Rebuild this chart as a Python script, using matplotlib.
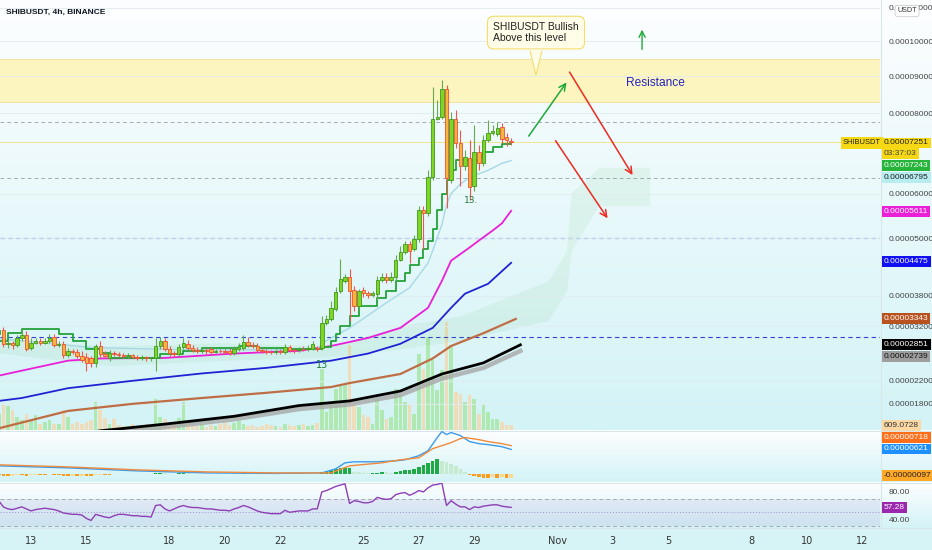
import numpy as np
import matplotlib
matplotlib.use("Agg")
import matplotlib.pyplot as plt
from matplotlib.colors import LinearSegmentedColormap
from matplotlib.ticker import FuncFormatter, NullLocator

# prices are in units of 1e-5 USDT, one candle every 4h, first candle Oct 11 20:00
start_day = 11 + 20 / 24

open_ = [3.06,3.13,2.87,2.89,2.85,2.97,3.04,2.80,2.89,2.93,
         2.89,2.93,3.00,2.85,2.87,2.67,2.74,2.72,2.65,2.63,
         2.60,2.51,2.83,2.69,2.60,2.70,2.69,2.67,2.65,2.66,
         2.63,2.61,2.63,2.60,2.61,2.83,2.93,2.78,2.70,2.69,
         2.82,2.87,2.80,2.76,2.74,2.76,2.78,2.72,2.74,2.73,
         2.74,2.70,2.78,2.80,2.91,2.85,2.83,2.76,2.74,2.72,
         2.71,2.74,2.72,2.82,2.76,2.75,2.78,2.77,2.78,2.80,
         2.80,3.27,3.35,3.54,3.90,4.10,4.18,3.92,3.60,3.92,
         3.86,3.82,3.84,4.12,4.18,4.12,4.18,4.54,4.71,4.88,
         4.77,4.99,5.62,5.57,6.39,7.86,7.89,8.64,6.32,7.84,
         7.23,6.66,6.85,6.18,7.00,6.73,7.30,7.48,7.46,7.64,
         7.38,7.28]
close = [3.13,2.87,2.89,2.85,2.97,3.04,2.78,2.89,2.93,2.89,
         2.93,2.98,2.85,2.87,2.67,2.74,2.72,2.65,2.58,2.51,
         2.52,2.83,2.69,2.65,2.70,2.69,2.67,2.65,2.66,2.63,
         2.61,2.63,2.60,2.61,2.83,2.93,2.78,2.70,2.69,2.82,
         2.89,2.80,2.76,2.74,2.76,2.74,2.72,2.74,2.73,2.72,
         2.70,2.78,2.82,2.91,2.85,2.83,2.76,2.74,2.72,2.71,
         2.74,2.72,2.82,2.76,2.75,2.78,2.77,2.80,2.87,2.78,
         3.27,3.35,3.56,3.88,4.14,4.18,3.90,3.60,3.90,3.86,
         3.82,3.86,4.12,4.18,4.12,4.18,4.54,4.71,4.88,4.73,
         4.99,5.62,5.57,6.39,7.86,7.89,8.64,6.37,7.84,7.23,
         6.66,6.88,6.16,7.00,6.73,7.30,7.48,7.53,7.61,7.33,
         7.30,7.251]
high = [3.21,3.19,2.95,2.93,3.04,3.15,3.11,2.97,2.98,2.97,
        2.98,3.06,3.06,2.93,2.93,2.80,2.78,2.78,2.74,2.70,
        2.65,2.87,2.93,2.74,2.76,2.74,2.72,2.70,2.70,2.69,
        2.67,2.67,2.65,2.63,2.97,3.00,2.97,2.83,2.74,2.87,
        2.98,2.95,2.85,2.82,2.80,2.80,2.82,2.78,2.78,2.78,
        2.80,2.83,2.89,3.04,3.00,2.91,2.89,2.80,2.78,2.76,
        2.78,2.78,2.87,2.85,2.80,2.82,2.83,2.85,2.93,2.83,
        3.39,3.42,3.70,3.98,4.56,4.25,4.35,4.00,3.94,3.98,
        3.90,3.90,4.20,4.27,4.27,4.29,4.65,4.84,4.95,4.95,
        5.08,5.73,5.73,6.56,8.70,8.34,8.89,8.75,8.03,8.08,
        7.56,7.05,7.30,7.69,7.18,7.43,7.81,7.69,7.76,7.74,
        7.48,7.35]
low = [3.02,2.82,2.80,2.78,2.82,2.93,2.74,2.76,2.87,2.85,
       2.87,2.89,2.82,2.82,2.60,2.63,2.69,2.61,2.54,2.38,
       2.45,2.45,2.63,2.60,2.56,2.65,2.63,2.61,2.61,2.60,
       2.58,2.58,2.56,2.56,2.38,2.78,2.74,2.65,2.63,2.65,
       2.78,2.76,2.72,2.70,2.70,2.69,2.69,2.70,2.70,2.69,
       2.67,2.67,2.74,2.76,2.82,2.80,2.72,2.70,2.69,2.69,
       2.69,2.69,2.69,2.72,2.70,2.72,2.74,2.74,2.76,2.74,
       2.76,3.23,3.31,3.50,3.86,4.06,3.31,3.50,3.54,3.78,
       3.76,3.78,3.72,4.08,4.06,4.08,4.12,4.52,4.67,4.48,
       4.73,4.91,4.77,5.50,6.32,7.81,7.84,5.67,6.25,7.10,
       6.18,6.56,5.85,6.08,6.56,6.66,7.25,7.43,7.40,7.23,
       7.15,7.18]
volume = [1952,3172,2928,2440,1586,1220,1952,1220,1830,732,
          976,1220,732,732,2440,1586,732,976,732,976,
          1220,3416,2440,1464,732,1342,610,488,488,732,
          488,610,732,610,3782,1586,1342,976,732,1464,
          3416,976,610,488,732,366,610,488,732,976,
          610,854,1098,732,488,610,366,488,732,610,
          488,366,732,610,488,610,732,488,610,854,
          7442,2196,3172,5002,5490,5612,10370,3050,2806,1830,
          1586,732,3782,2440,1342,1586,5002,4270,3416,3050,
          1952,9272,7442,11346,8540,4880,7320,13176,10370,4636,
          4392,3416,4270,3782,1952,3050,2196,1342,1342,976,
          610,609.07]

# overlays (bar index, value)
trail_bars = [0,2,5,13,16,19,22,24,35,40,44,52,56,62,70,72,73,74,76,78,
              82,84,86,88,89,91,92,93,94,95,96,97,98,99,104,105,107,109,111]
trail_vals = [2.93,3.07,3.15,3.06,2.93,2.78,2.70,2.61,2.69,2.74,2.80,2.83,2.80,2.78,2.82,
              2.93,3.06,3.21,3.40,3.60,3.76,3.90,4.10,4.27,4.42,4.58,4.77,4.95,5.21,5.62,
              6.01,6.32,6.56,6.80,6.88,7.00,7.13,7.20,7.23]
ema_fast_bars = [0,20,40,60,69,71,76,84,89,93,94,96,97,98,100,102,106,109,111]
ema_fast_vals = [2.97,2.80,2.76,2.76,2.78,2.93,3.17,3.66,3.96,4.47,4.73,5.30,5.75,6.01,6.23,6.39,6.56,6.73,6.795]
ema50_bars = [0,5,15,22,36,51,65,72,80,87,93,96,98,102,104,107,109,111]
ema50_vals = [2.29,2.38,2.56,2.60,2.61,2.69,2.74,2.83,2.98,3.17,3.56,4.10,4.52,4.80,4.95,5.17,5.33,5.611]
ema100_bars = [0,5,15,29,44,58,72,80,87,94,98,101,106,111]
ema100_vals = [1.85,1.90,2.07,2.20,2.33,2.43,2.56,2.69,2.87,3.17,3.56,3.84,4.04,4.475]
ema200_bars = [0,15,29,44,58,72,76,87,94,98,105,112]
ema200_vals = [1.39,1.68,1.80,1.90,1.99,2.09,2.16,2.32,2.60,2.83,3.07,3.343]
ma_black_bars = [10,22,36,51,65,76,87,96,105,113]
ma_black_vals = [1.20,1.35,1.46,1.59,1.77,1.85,2.02,2.32,2.52,2.851]
ma_gray_vals = [1.15,1.30,1.41,1.54,1.71,1.79,1.95,2.24,2.43,2.739]
cloud_bars = [0,24,48,72,87,100,119,123,124,130,141]
cloud_a = [2.97,2.83,2.89,2.83,3.21,3.40,4.10,4.73,6.03,6.63,6.63]
cloud_b = [2.70,2.47,2.56,2.63,2.78,2.93,3.31,3.90,4.73,5.73,5.73]

# MACD in units of 1e-6
macd_bars = [0,15,30,45,60,70,73,75,77,82,86,88,91,93,95,96,97,98,100,102,104,106,109,111]
macd_vals = [2.05,1.54,0.77,0.26,0.13,0.26,1.28,2.82,3.08,3.08,3.33,3.59,4.62,5.90,9.23,10.77,
             10.00,10.51,9.74,8.21,7.69,7.44,6.92,6.21]
signal_bars = [0,15,30,45,60,72,76,83,87,91,94,98,100,101,104,106,109,111]
signal_vals = [2.31,1.79,1.03,0.51,0.26,0.26,2.05,2.82,3.59,4.10,6.41,7.95,8.97,9.23,8.72,8.21,7.69,7.18]
hist = [-0.3,-0.4,-0.5,-0.4,-0.3,-0.3,-0.4,-0.3,-0.2,-0.2,
        -0.2,-0.1,-0.2,-0.3,-0.5,-0.6,-0.5,-0.5,-0.4,-0.5,
        -0.6,-0.3,-0.2,-0.2,-0.2,-0.1,-0.1,-0.1,-0.1,-0.1,
        -0.1,-0.1,-0.1,-0.1,0.2,0.3,0.2,0.1,0.1,0.2,
        0.3,0.2,0.1,0.1,0.1,0.0,-0.1,-0.1,-0.1,-0.1,
        -0.1,0.1,0.1,0.2,0.1,0.1,-0.1,-0.1,-0.1,-0.1,
        -0.1,-0.1,0.1,0.0,0.0,-0.1,-0.1,0.0,0.1,0.1,
        0.5,0.8,1.0,1.2,1.4,1.5,1.6,0.6,0.5,0.3,
        0.2,0.2,0.3,0.5,0.4,0.3,0.6,0.7,0.9,1.1,
        1.3,1.8,2.3,2.8,3.3,3.8,3.4,3.0,2.6,2.0,
        1.2,0.5,-0.3,-0.6,-0.9,-1.0,-1.0,-0.9,-1.0,-0.9,
        -1.0,-0.97]
rsi = [67,58,55,54,56,58,55,52,54,55,
       56,55,54,52,49,48,47,47,46,41,
       38,47,45,43,42,45,47,47,46,45,
       45,44,44,43,60,61,55,52,55,58,
       60,58,57,57,56,55,55,54,53,53,
       52,55,57,60,58,55,52,50,49,48,
       48,48,53,50,51,52,52,52,55,55,
       80,82,85,88,90,92,63,67,66,64,
       64,66,72,70,69,70,76,78,79,75,
       78,82,80,86,90,91,93,60,67,62,
       58,58,54,58,57,59,60,61,61,59,
       58,57.28]

price_ticks = [11, 10, 9, 8, 6, 5, 3.8, 3.2, 2.2, 1.8]
day_ticks = [13, 15, 18, 20, 22, 25, 27, 29, 32, 34, 36, 39, 41, 43]
day_labels = ["13", "15", "18", "20", "22", "25", "27", "29", "Nov", "3", "5", "8", "10", "12"]

W, H = 932, 550
SANS = ["Liberation Sans", "DejaVu Sans"]
AXFS = 6.0


def bx(bars):
    return start_day + np.asarray(bars) / 6.0


def fwd(v):
    return np.log(np.clip(np.asarray(v, dtype=float) + 9.63, 1e-6, None))


def inv(v):
    return np.exp(v) - 9.63


fig = plt.figure(figsize=(W / 100, H / 100), dpi=100)

# background panes (pixel coordinates)
bg = fig.add_axes([0, 0, 1, 1])
bg.set_zorder(-10)
bg.set_xlim(0, W)
bg.set_ylim(H, 0)
bg.axis("off")
cmap = LinearSegmentedColormap.from_list("bgc", ["#fdfeff", "#d3f3f6"])
grad = np.linspace(0, 1, 256).reshape(-1, 1)
for top, bot in [(0, 430), (431, 482), (483, 528)]:
    bg.imshow(grad, extent=(0, W, bot, top), aspect="auto", cmap=cmap, origin="upper")
bg.add_patch(plt.Rectangle((0, 528), W, 22, color="#d6f4f6", lw=0))
for yl in [430.5, 482.5, 528]:
    bg.plot([0, W], [yl, yl], color="#d8e6e9", lw=0.8)
bg.plot([880.5, 880.5], [0, 528], color="#d8e6e9", lw=0.8)

main_rect = [0, 1 - 430 / H, 880 / W, 430 / H]
main = fig.add_axes(main_rect)
main.set_zorder(1)
main.patch.set_alpha(0)
vol = fig.add_axes(main_rect, sharex=main, label="vol")
vol.set_zorder(0)
vol.patch.set_alpha(0)

x = bx(np.arange(len(close)))
o = np.array(open_)
c = np.array(close)
up = c >= o

# volume
vcol = np.where(up, "#a6e6a0", "#f6d7ab")
vol.bar(x, volume, width=0.13, color=vcol, alpha=0.8, lw=0)
vol.set_ylim(0, 52400)
vol.axis("off")

main.set_yscale("function", functions=(fwd, inv))
main.set_ylim(1.363, 11.24)
main.set_xlim(11.88, 43.65)

main.axhspan(8.29, 9.48, color="#fcf5bf", zorder=0.5, lw=0)
main.axhline(9.48, color="#efe2a2", lw=0.7, zorder=0.6)
main.axhline(8.29, color="#efe2a2", lw=0.7, zorder=0.6)
main.axhline(7.76, color="#a3adb0", lw=0.7, ls=(0, (4, 3)), zorder=0.7)
main.axhline(6.37, color="#a3adb0", lw=0.7, ls=(0, (4, 3)), zorder=0.7)
main.axhline(5.0, color="#3342d6", lw=0.8, ls=(0, (4, 3)), zorder=0.7)
main.axhline(3.0, color="#3342d6", lw=0.8, ls=(0, (4, 3)), zorder=0.7)
main.axhline(close[-1], color="#f2e27a", lw=0.6, zorder=0.7)

# ichimoku-like cloud
main.fill_between(bx(cloud_bars), cloud_a, cloud_b, color="#4caf50", alpha=0.08, lw=0, zorder=0.8)

main.plot(bx(ma_black_bars), ma_gray_vals, color="#a8a8a8", lw=3.2, alpha=0.8, zorder=2)
main.plot(bx(ma_black_bars), ma_black_vals, color="#000000", lw=2.0, zorder=2.1)
main.plot(bx(ema200_bars), ema200_vals, color="#bf6d45", lw=1.6, zorder=2)
main.plot(bx(ema100_bars), ema100_vals, color="#1f23d4", lw=1.3, zorder=2)
main.plot(bx(ema50_bars), ema50_vals, color="#ea1fd8", lw=1.3, zorder=2)
main.plot(bx(ema_fast_bars), ema_fast_vals, color="#a8d8e6", lw=1.0, zorder=2)
main.step(bx(trail_bars), trail_vals, where="post", color="#23a33a", lw=1.3, zorder=2.5)

# candles
wick_col = np.where(up, "#6aa84f", "#f0574a")
main.vlines(x, low, high, colors=wick_col, lw=0.8, zorder=3)
body_lo = np.minimum(o, c)
body_h = np.maximum(np.abs(c - o), 0.008)
main.bar(x, body_h, bottom=body_lo, width=0.125,
         color=np.where(up, "#7fd524", "#f7b63a"),
         edgecolor=np.where(up, "#3e9a1f", "#ef4f3a"), lw=0.6, zorder=3.5)

main.text(bx(70), 2.58, "13", color="#1d7a3b", fontsize=7, ha="center", va="top", zorder=4)
main.text(bx(102) + 0.05, 5.95, "13.", color="#1d7a3b", fontsize=6.5, ha="center", va="top", zorder=4)

# drawings
main.annotate("", xy=(32.39, 8.89), xytext=(30.91, 7.35),
              arrowprops=dict(arrowstyle="->", color="#1fa83a", lw=1.1, mutation_scale=12), zorder=5)
main.annotate("", xy=(34.77, 6.39), xytext=(32.39, 9.18),
              arrowprops=dict(arrowstyle="->", color="#ee2b22", lw=1.1, mutation_scale=12), zorder=5)
main.annotate("", xy=(33.87, 5.39), xytext=(31.88, 7.35),
              arrowprops=dict(arrowstyle="->", color="#ee2b22", lw=1.1, mutation_scale=12), zorder=5)
main.annotate("", xy=(35.06, 10.42), xytext=(35.06, 9.68),
              arrowprops=dict(arrowstyle="->", color="#1fa83a", lw=1.0, mutation_scale=11), zorder=5)
main.text(34.48, 8.81, "Resistance", color="#2424c4", fontsize=8.6, va="center",
          family=SANS, zorder=5)
main.text(31.23, 10.25, "SHIBUSDT Bullish\nAbove this level", fontsize=7.5, color="#222222",
          ha="center", va="center", multialignment="left", family=SANS, linespacing=1.15,
          bbox=dict(boxstyle="round,pad=0.55,rounding_size=0.6", fc="#fffde8", ec="#f3dd6c", lw=0.8),
          zorder=6)
tri_x = [31.02, 31.44, 31.23]
tri_y = [9.75, 9.75, 9.03]
main.fill(tri_x, tri_y, color="#fffde8", zorder=7, lw=0)
main.plot([31.02, 31.23, 31.44], [9.70, 9.03, 9.70], color="#f3dd6c", lw=0.8, zorder=7)

# price axis
main.yaxis.tick_right()
main.set_yticks(price_ticks)
main.yaxis.set_minor_locator(NullLocator())
main.yaxis.set_major_formatter(FuncFormatter(lambda v, _: f"{v * 1e-5:.8f}"))
main.tick_params(axis="y", length=0, pad=6, labelsize=AXFS, labelcolor="#444444")
for lab in main.get_yticklabels():
    lab.set_family(SANS)
main.tick_params(axis="x", bottom=False, labelbottom=False)
main.grid(axis="y", color="#e0ecef", lw=0.6, zorder=0)
for s in main.spines.values():
    s.set_visible(False)

# MACD pane
macd_ax = fig.add_axes([0, 1 - 482 / H, 880 / W, 51 / H], sharex=main)
macd_ax.patch.set_alpha(0)
hcol = []
for i, h in enumerate(hist):
    prev = hist[i - 1] if i > 0 else h
    if h >= 0:
        hcol.append("#1faa45" if h >= prev else "#c5ead0")
    else:
        hcol.append("#ff9a1a" if h <= prev else "#ffd98a")
macd_ax.bar(x, hist, width=0.13, color=hcol, lw=0)
macd_ax.plot(bx(macd_bars), macd_vals, color="#3d9be9", lw=1.0)
macd_ax.plot(bx(signal_bars), signal_vals, color="#f08a3c", lw=1.0)
macd_ax.set_ylim(-2.05, 10.9)
macd_ax.set_yticks([])
macd_ax.tick_params(axis="x", bottom=False, labelbottom=False)
for s in macd_ax.spines.values():
    s.set_visible(False)

# RSI pane
rsi_ax = fig.add_axes([0, 1 - 528 / H, 880 / W, 45 / H], sharex=main)
rsi_ax.patch.set_alpha(0)
rsi_ax.axhspan(30, 70, color="#7e57c2", alpha=0.1, lw=0)
rsi_ax.axhline(70, color="#a9a6b8", lw=0.7, ls=(0, (4, 3)))
rsi_ax.axhline(30, color="#a9a6b8", lw=0.7, ls=(0, (4, 3)))
rsi_ax.axhline(50, color="#a58fd0", lw=0.7, ls=(0, (1, 2)))
rsi_ax.plot(x, rsi, color="#8e3fb5", lw=1.0)
rsi_ax.set_ylim(26.9, 93.1)
rsi_ax.yaxis.tick_right()
rsi_ax.set_yticks([80, 40])
rsi_ax.yaxis.set_major_formatter(FuncFormatter(lambda v, _: f"{v:.2f}"))
rsi_ax.tick_params(axis="y", length=0, pad=6, labelsize=AXFS, labelcolor="#444444")
for lab in rsi_ax.get_yticklabels():
    lab.set_family(SANS)
rsi_ax.set_xticks(day_ticks)
rsi_ax.set_xticklabels(day_labels)
rsi_ax.tick_params(axis="x", length=0, pad=6, labelsize=7, labelcolor="#333333")
for s in rsi_ax.spines.values():
    s.set_visible(False)
main.set_xlim(11.88, 43.65)

# title
fig.text(6 / W, 1 - 12 / H, "SHIBUSDT, 4h, BINANCE", fontsize=6.0, weight="bold",
         color="#131722", va="center", family=SANS)

# last-value tags on the price scale (pixel rows)
tags = [
    (143, "0.00007251", "#f6d914", "#222222"),
    (153.5, "03:37:03", "#f6d914", "#444444"),
    (165.5, "0.00007243", "#26b43a", "#ffffff"),
    (177.5, "0.00006795", "#b7ecf0", "#222222"),
    (211.5, "0.00005611", "#ea1fd8", "#ffffff"),
    (261.5, "0.00004475", "#1010f0", "#ffffff"),
    (318.5, "0.00003343", "#b8521f", "#ffffff"),
    (344.5, "0.00002851", "#000000", "#ffffff"),
    (356.5, "0.00002739", "#9e9e9e", "#111111"),
    (425.5, "609.0728", "#fcd9a4", "#333333"),
    (437.5, "0.00000718", "#ff6f1a", "#ffffff"),
    (449, "0.00000621", "#1d8fff", "#ffffff"),
    (475.5, "-0.00000097", "#ffa726", "#222222"),
    (507.5, "57.28", "#9b27af", "#ffffff"),
]
for ypx, txt, bgc, fgc in tags:
    fig.text(884 / W, 1 - ypx / H, txt, fontsize=AXFS, color=fgc, va="center", ha="left",
             family=SANS, zorder=10,
             bbox=dict(boxstyle="square,pad=0.22", fc=bgc, ec="none"))
fig.text(862 / W, 1 - 143 / H, "SHIBUSDT", fontsize=5.4, color="#222222", va="center",
         ha="center", family=SANS, zorder=10,
         bbox=dict(boxstyle="square,pad=0.3", fc="#f6d914", ec="none"))
fig.text(907 / W, 1 - 11 / H, "USDT", fontsize=5.2, color="#333333", va="center", ha="center",
         family=SANS, zorder=10,
         bbox=dict(boxstyle="round,pad=0.3", fc="#ffffff", ec="#d0d0d0", lw=0.6))

fig.savefig("out.png", dpi=100)
